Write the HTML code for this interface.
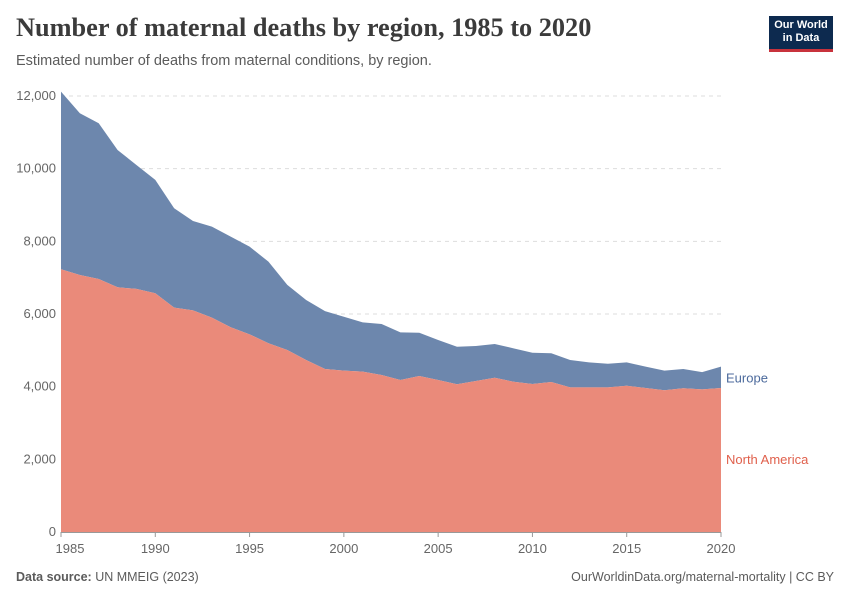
<!DOCTYPE html>
<html><head><meta charset="utf-8">
<style>
body{margin:0;background:#fff;font-family:"Liberation Sans",sans-serif;}
#wrap{position:relative;width:850px;height:600px;overflow:hidden;}
h1{position:absolute;left:16px;top:13px;margin:0;font-family:"Liberation Serif",serif;font-size:26.3px;font-weight:bold;color:#3b3b3b;}
.sub{position:absolute;left:16px;top:53px;font-size:14.5px;color:#5b5b5b;}
.logo{position:absolute;left:769px;top:16px;width:64px;height:36px;background:#0d2a4f;border-bottom:3px solid #c8323c;color:#fff;font-size:11px;font-weight:bold;text-align:center;line-height:13px;padding-top:3px;box-sizing:border-box;}
.foot{position:absolute;top:570px;font-size:12.5px;color:#5b5b5b;}
</style></head><body>
<div id="wrap">
<h1>Number of maternal deaths by region, 1985 to 2020</h1>
<div class="sub">Estimated number of deaths from maternal conditions, by region.</div>
<div class="logo">Our World<br>in Data</div>
<svg id="chart" width="850" height="600" style="position:absolute;left:0;top:0"></svg>
<div class="foot" style="left:16px"><b>Data source:</b> UN MMEIG (2023)</div>
<div class="foot" style="right:16px">OurWorldinData.org/maternal-mortality | CC BY</div>
</div>
<script>
const years=[1985,1986,1987,1988,1989,1990,1991,1992,1993,1994,1995,1996,1997,1998,1999,2000,2001,2002,2003,2004,2005,2006,2007,2008,2009,2010,2011,2012,2013,2014,2015,2016,2017,2018,2019,2020];
const northAmerica=[7230,7075,6965,6735,6690,6570,6175,6100,5900,5635,5440,5195,5010,4735,4485,4440,4415,4320,4185,4295,4185,4065,4155,4245,4135,4075,4130,3980,3980,3980,4025,3965,3900,3955,3925,3965];
const europe=[4890,4450,4285,3780,3410,3120,2735,2460,2505,2495,2415,2245,1790,1650,1595,1485,1355,1405,1310,1190,1100,1035,965,930,920,860,790,755,690,650,645,585,540,530,475,585];
const yTicks=[0,2000,4000,6000,8000,10000,12000];
const xTicks=[1985,1990,1995,2000,2005,2010,2015,2020];
const svg=document.getElementById('chart');const NS='http://www.w3.org/2000/svg';
const x0=61,x1=721,y0=532,y1=96;
const xs=v=>x0+(v-1985)/(2020-1985)*(x1-x0);
const ys=v=>y0-v/12000*(y0-y1);
function mk(t,a){const e=document.createElementNS(NS,t);for(const k in a)e.setAttribute(k,a[k]);svg.appendChild(e);return e;}
yTicks.forEach(t=>{
 if(t>0){const l=mk('line',{x1:x0,x2:x1,y1:ys(t),y2:ys(t),stroke:'#ddd','stroke-dasharray':'4,4'});
 
 }
 const tx=mk('text',{x:56,y:ys(t)+4,'text-anchor':'end','font-size':'13','fill':'#666','font-family':'Liberation Sans, sans-serif'});
 tx.textContent=t.toLocaleString('en-US');
 
 
});
const totals=years.map((y,i)=>northAmerica[i]+europe[i]);
let pe='M'+years.map((y,i)=>xs(y)+','+ys(totals[i])).join('L');
for(let i=years.length-1;i>=0;i--)pe+='L'+xs(years[i])+','+ys(northAmerica[i]);
const ae=mk('path',{d:pe+'Z',fill:'#6d87ad'});


let pn='M'+years.map((y,i)=>xs(y)+','+ys(northAmerica[i])).join('L')+'L'+xs(2020)+','+ys(0)+'L'+xs(1985)+','+ys(0)+'Z';
const an=mk('path',{d:pn,fill:'#ea8a7a'});


const ax=mk('line',{x1:x0,x2:x1,y1:y0+0.5,y2:y0+0.5,stroke:'#999'});


xTicks.forEach(t=>{
 const tk=mk('line',{x1:xs(t),x2:xs(t),y1:y0,y2:y0+5,stroke:'#999'});
 
 
 const tx=mk('text',{x:t==1985?xs(t)+9:xs(t),y:553,'text-anchor':'middle','font-size':'13','fill':'#666','font-family':'Liberation Sans, sans-serif'});
 tx.textContent=t;
 
 
});
const n=years.length-1;
const le=mk('text',{x:726,y:ys(northAmerica[n]+europe[n]/2)+5,'font-size':'13','fill':'#4c6a9c','font-family':'Liberation Sans, sans-serif'});
le.textContent='Europe';


const ln=mk('text',{x:726,y:ys(northAmerica[n]/2)+4,'font-size':'13','fill':'#e0604c','font-family':'Liberation Sans, sans-serif'});
ln.textContent='North America';


</script>
</body></html>
